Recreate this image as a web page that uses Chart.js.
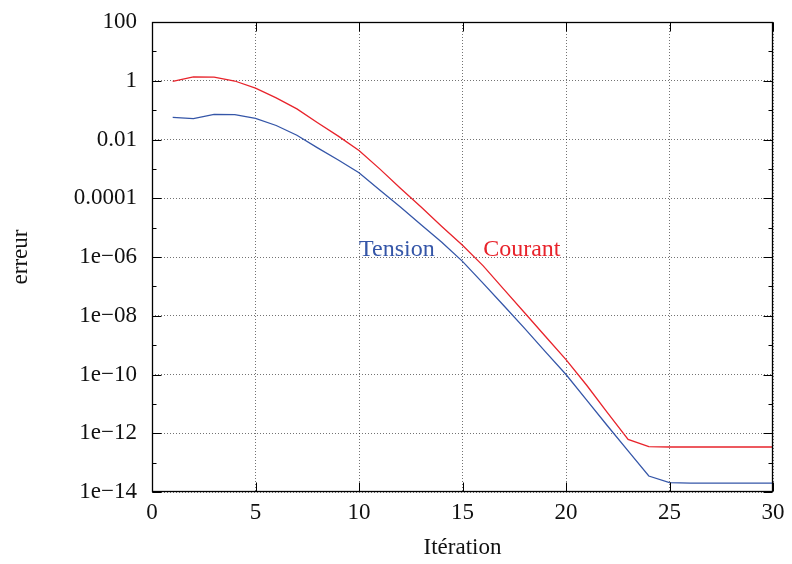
<!DOCTYPE html>
<html><head><meta charset="utf-8">
<script src="https://cdn.jsdelivr.net/npm/chart.js@4"></script>
<style>html,body{margin:0;padding:0;background:#fff;}canvas{display:block;}</style>
</head><body>
<canvas id="c" width="792" height="564"></canvas>
<script>
// ---- data ----
const iterations = [1,2,3,4,5,6,7,8,9,10,11,12,13,14,15,16,17,18,19,20,21,22,23,24,25,26,27,28,29,30];
const tension = [0.057,0.051,0.072,0.070,0.052,0.030,0.014,0.0052,0.0020,7.4e-4,
                 1.9e-4,5.0e-5,1.26e-5,3.2e-6,7.1e-7,1.26e-7,2.2e-8,3.7e-9,6.0e-10,1.0e-10,
                 1.35e-11,1.8e-12,2.5e-13,3.5e-14,2.1e-14,2.0e-14,2.0e-14,2.0e-14,2.0e-14,2.0e-14];
const courant = [0.95,1.35,1.32,0.98,0.56,0.26,0.11,0.037,0.013,0.0042,
                 1.0e-3,2.2e-4,5.0e-5,1.1e-5,2.5e-6,5.0e-7,7.9e-8,1.26e-8,2.0e-9,3.2e-10,
                 4.3e-11,5.0e-12,6.2e-13,3.5e-13,3.4e-13,3.4e-13,3.4e-13,3.4e-13,3.4e-13,3.4e-13];
const seriesNames = ['Tension','Courant'];
const xTickValues = [0,5,10,15,20,25,30];
const yTickValues = [1e-14,1e-12,1e-10,1e-8,1e-6,1e-4,1e-2,1,100];
const yTickLabels = ['1e\u221214','1e\u221212','1e\u221210','1e\u221208','1e\u221206','0.0001','0.01','1','100'];
const yMinorValues = [1e-13,1e-11,1e-9,1e-7,1e-5,1e-3,1e-1,10];

// ---- style ----
const FONT = '"Liberation Serif", "Times New Roman", serif';
const RED = '#e8232b';
const BLUE = '#3556a8';
// in-plot labels (data coords)
const labelAnchors = [{x:10, y:1e-6}, {x:16, y:1e-6}];

const frame = {
  id: 'frame',
  afterDatasetsDraw(chart) {
    const {ctx, scales:{x, y}} = chart;
    ctx.save();
    ctx.font = '24px ' + FONT;
    ctx.textAlign = 'left';
    ctx.textBaseline = 'alphabetic';
    const cols = [BLUE, RED];
    seriesNames.forEach((n, i) => {
      ctx.fillStyle = cols[i];
      ctx.fillText(n, x.getPixelForValue(labelAnchors[i].x), y.getPixelForValue(labelAnchors[i].y) - 1);
    });
    ctx.restore();
  },
  afterDraw(chart) {
    const {ctx, chartArea:a, scales:{x, y}} = chart;
    ctx.save();
    ctx.strokeStyle = '#000';
    ctx.lineWidth = 1;
    ctx.beginPath();
    const L = Math.round(a.left) + 0.5, R = Math.round(a.right) - 0.5;
    const T = Math.round(a.top) + 0.5, B = Math.round(a.bottom) - 0.5;
    yTickValues.forEach(v => {
      const p = Math.round(y.getPixelForValue(v)) + 0.5;
      ctx.moveTo(L, p); ctx.lineTo(L + 9, p);
      ctx.moveTo(R, p); ctx.lineTo(R - 9, p);
    });
    yMinorValues.forEach(v => {
      const p = Math.round(y.getPixelForValue(v)) + 0.5;
      ctx.moveTo(L, p); ctx.lineTo(L + 4, p);
      ctx.moveTo(R, p); ctx.lineTo(R - 4, p);
    });
    xTickValues.forEach(v => {
      const p = Math.round(x.getPixelForValue(v)) + 0.5;
      ctx.moveTo(p, B); ctx.lineTo(p, B - 9);
      ctx.moveTo(p, T); ctx.lineTo(p, T + 9);
    });
    ctx.stroke();
    ctx.lineWidth = 1.3;
    ctx.strokeRect(L, T, R - L, B - T);
    ctx.restore();
  }
};

new Chart(document.getElementById('c'), {
  type: 'line',
  data: {
    datasets: [
      {label: seriesNames[0], data: iterations.map((it, i) => ({x: it, y: tension[i]})),
       borderColor: BLUE, borderWidth: 1.3, pointRadius: 0, tension: 0, fill: false},
      {label: seriesNames[1], data: iterations.map((it, i) => ({x: it, y: courant[i]})),
       borderColor: RED, borderWidth: 1.3, pointRadius: 0, tension: 0, fill: false}
    ]
  },
  options: {
    responsive: false,
    animation: false,
    devicePixelRatio: 1,
    layout: {padding: {top: 22, right: 19, left: 0, bottom: 0}},
    plugins: {legend: {display: false}, tooltip: {enabled: false}},
    scales: {
      x: {
        type: 'linear', min: 0, max: 30,
        afterFit: s => { s.height = 72; s.paddingLeft = 0; s.paddingRight = 0; },
        afterBuildTicks: s => { s.ticks = xTickValues.map(v => ({value: v})); },
        ticks: {font: {family: FONT, size: 23}, color: '#111', padding: 7, maxRotation: 0,
                callback: v => String(v)},
        grid: {color: 'rgba(0,0,0,0.55)', lineWidth: 1, drawTicks: false},
        border: {display: false, dash: [1, 2]},
        title: {display: true, text: 'Itération', font: {family: FONT, size: 23}, color: '#111',
                padding: {top: 0, bottom: 2}}
      },
      y: {
        type: 'logarithmic', min: 1e-14, max: 100,
        afterFit: s => { s.width = 152; s.paddingTop = 0; s.paddingBottom = 0; },
        afterBuildTicks: s => { s.ticks = yTickValues.map(v => ({value: v})); },
        ticks: {font: {family: FONT, size: 23}, color: '#111', padding: 15,
                callback: (v) => yTickLabels[yTickValues.findIndex(t => Math.abs(Math.log10(t) - Math.log10(v)) < 0.01)]},
        grid: {color: 'rgba(0,0,0,0.55)', lineWidth: 1, drawTicks: false},
        border: {display: false, dash: [1, 2]},
        title: {display: true, text: 'erreur', font: {family: FONT, size: 23}, color: '#111',
                padding: {top: 7, bottom: 0}}
      }
    }
  },
  plugins: [frame]
});
</script>
</body></html>
